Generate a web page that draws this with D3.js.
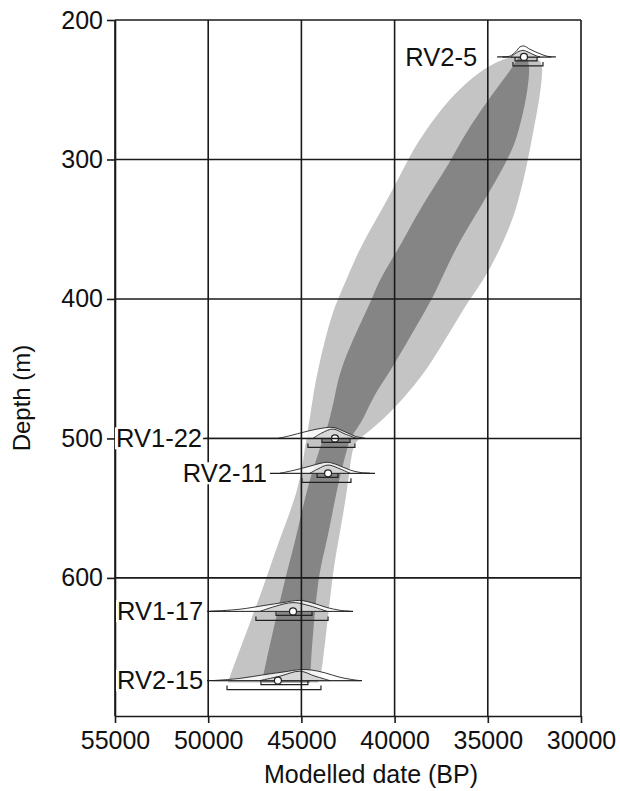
<!DOCTYPE html>
<html>
<head>
<meta charset="utf-8">
<script src="https://cdn.jsdelivr.net/npm/d3@7"></script>
<style>
  body { margin: 0; background: #fff; }
  svg { display: block; font-family: "Liberation Sans", Arial, sans-serif; }
</style>
</head>
<body>
<div id="chart"></div>
<script>
// age-depth model envelope (depth in m, dates in years BP)
const bandDepth   = [224, 228, 235, 255, 285, 300, 335, 360, 385, 400, 415, 450, 470, 485, 493, 500, 505, 535, 575, 600, 670, 675];
const band95Old   = [33050, 34200, 35260, 37030, 38640, 39280, 40620, 41750, 42550, 43040, 43470, 44110, 44380, 44540, 44650, 44700, 44810, 45080, 46260, 46850, 48830, 48940];
const band95Young = [33000, 32150, 32040, 32200, 32630, 32840, 33430, 34180, 35150, 35960, 36650, 38210, 39440, 40520, 41210, 41860, 42290, 42500, 43040, 43360, 43900, 44110];
const band68Old   = [33100, 33450, 33700, 34880, 36380, 36920, 38640, 39600, 40780, 41210, 41750, 42930, 43200, 43470, 43630, 43840, 43950, 44700, 45340, 45880, 47060, 47110];
const band68Young = [33050, 32850, 32740, 32900, 33430, 33920, 35420, 36600, 37460, 37990, 38640, 40140, 41160, 41640, 42020, 42390, 42500, 43090, 43630, 44160, 44540, 44540];

// dated samples
const sampleNames = ["RV2-5", "RV1-22", "RV2-11", "RV1-17", "RV2-15"];
const sampleDepth = [226.5, 500, 525, 624, 673.6];
const sampleLine  = [[34500, 31350], [50170, 41590], [46690, 41050], [50060, 42230], [50060, 41750]];
const sampleMean  = [33060, 43200, 43570, 45450, 46260];
const range68     = [[33540, 32360], [43900, 42390], [44160, 43040], [46360, 44430], [47170, 44650]];
const range95     = [[33650, 32040], [44650, 42130], [44970, 42340], [47440, 43570], [48990, 43950]];

// unmodelled likelihoods (outline) and posteriors (filled)
const priorDates = [
  [34200, 33810, 33490, 33270, 33060, 32740, 32360, 31930, 31600],
  [46250, 45610, 44810, 44160, 43300, 42660, 42120, 41590],
  [46150, 45340, 44540, 44000, 43570, 43040, 42390, 41860, 41320],
  [49900, 48290, 46950, 45990, 45080, 44270, 43630, 42930, 42390],
  [49740, 48290, 46950, 45880, 45080, 44430, 43730, 42930, 42120, 41860]
];
const priorProb = [
  [0, 0.08, 0.5, 0.92, 1, 0.7, 0.4, 0.12, 0],
  [0, 0.25, 0.6, 0.85, 1, 0.6, 0.2, 0],
  [0, 0.3, 0.65, 0.9, 1, 0.75, 0.3, 0.08, 0],
  [0, 0.2, 0.55, 0.8, 1, 0.7, 0.35, 0.1, 0],
  [0, 0.2, 0.55, 0.8, 1, 0.95, 0.7, 0.3, 0.05, 0]
];
const postDates = [
  [33750, 33400, 33110, 32840, 32470, 32200],
  [44380, 43900, 43300, 42660, 42020],
  [44540, 44110, 43570, 42930, 42390],
  [47220, 46420, 45450, 44540, 43630],
  [47220, 46150, 45080, 44270, 43470]
];
const postProb = [
  [0, 0.45, 0.6, 0.45, 0.15, 0],
  [0, 0.5, 0.85, 0.4, 0],
  [0, 0.4, 0.75, 0.4, 0],
  [0, 0.45, 0.8, 0.5, 0],
  [0, 0.4, 0.85, 0.4, 0]
];

const xTicks = [55000, 50000, 45000, 40000, 35000, 30000];
const yTicks = [200, 300, 400, 500, 600];

// layout
const width = 620, height = 791;
const labelGap = [20, 3, 3, 4, 4];
const peakH = 11;

const x = d3.scaleLinear().domain([55000, 30000]).range([115, 581]);
const y = d3.scaleLinear().domain([200, 699]).range([20, 716]);

const svg = d3.select("#chart").append("svg")
  .attr("width", width)
  .attr("height", height);

// envelope
const band = (oldV, youngV) => d3.area()
  .curve(d3.curveBasis)
  .y((d, i) => y(bandDepth[i]))
  .x0((d, i) => x(oldV[i]))
  .x1((d, i) => x(youngV[i]));

svg.append("path")
  .attr("d", band(band95Old, band95Young)(bandDepth))
  .attr("fill", "#c4c4c4");

svg.append("path")
  .attr("d", band(band68Old, band68Young)(bandDepth))
  .attr("fill", "#858585");

// sample distributions
const dist = svg.append("g");
sampleNames.forEach((name, s) => {
  const y0 = y(sampleDepth[s]);
  const curve = (dates, probs) => d3.area()
    .curve(d3.curveCatmullRom.alpha(0.5))
    .x((d, i) => x(dates[i]))
    .y0(y0)
    .y1((d, i) => y0 - probs[i] * peakH)(dates);

  const g = dist.append("g");

  g.append("line")
    .attr("x1", x(sampleLine[s][0])).attr("x2", x(sampleLine[s][1]))
    .attr("y1", y0).attr("y2", y0)
    .attr("stroke", "#222").attr("stroke-width", 1.2);

  g.append("path")
    .attr("d", curve(priorDates[s], priorProb[s]))
    .attr("fill", "#fff").attr("fill-opacity", 0.85)
    .attr("stroke", "#222").attr("stroke-width", 0.9);

  g.append("path")
    .attr("d", curve(postDates[s], postProb[s]))
    .attr("fill", "#d6d6d6")
    .attr("stroke", "#222").attr("stroke-width", 0.9);

  [[range68[s], 4], [range95[s], 9]].forEach(([r, off]) => {
    const a = x(r[0]), b = x(r[1]), yy = y0 + off;
    g.append("path")
      .attr("d", `M${a},${yy - 4}V${yy}H${b}V${yy - 4}`)
      .attr("fill", "none")
      .attr("stroke", "#222").attr("stroke-width", 1.2);
  });

  g.append("circle")
    .attr("cx", x(sampleMean[s])).attr("cy", y0)
    .attr("r", 3.5)
    .attr("fill", "#fff").attr("stroke", "#222").attr("stroke-width", 1.2);
});

// grid
const grid = svg.append("g")
  .attr("stroke", "#1a1a1a")
  .attr("stroke-width", 1.6);

grid.selectAll(".vg")
  .data(xTicks)
  .join("line")
  .attr("x1", d => x(d)).attr("x2", d => x(d))
  .attr("y1", y(200)).attr("y2", y(699));

grid.selectAll(".hg")
  .data(yTicks)
  .join("line")
  .attr("class", "hg")
  .attr("x1", x(55000)).attr("x2", x(30000))
  .attr("y1", d => y(d)).attr("y2", d => y(d));

// axes
const yAxis = g => g
  .attr("transform", `translate(${x(55000)},0)`)
  .call(d3.axisLeft(y).tickValues(yTicks).tickSize(8).tickSizeOuter(0).tickPadding(4))
  .call(g => g.selectAll("path, line").attr("stroke", "#1a1a1a").attr("stroke-width", 1.6))
  .call(g => g.selectAll("text").attr("font-size", 25).attr("fill", "#111"));

const xAxis = g => g
  .attr("transform", `translate(0,${y(699)})`)
  .call(d3.axisBottom(x).tickValues(xTicks).tickFormat(d3.format("d")).tickSize(7).tickSizeOuter(0).tickPadding(8))
  .call(g => g.selectAll("path, line").attr("stroke", "#1a1a1a").attr("stroke-width", 1.6))
  .call(g => g.selectAll("text").attr("font-size", 25).attr("fill", "#111"));

svg.append("g").call(yAxis);
svg.append("g").call(xAxis);

svg.append("text")
  .attr("x", 371)
  .attr("y", 783)
  .attr("text-anchor", "middle")
  .attr("font-size", 25)
  .attr("fill", "#111")
  .text("Modelled date (BP)");

svg.append("text")
  .attr("transform", `translate(30,398) rotate(-90)`)
  .attr("text-anchor", "middle")
  .attr("font-size", 24)
  .attr("fill", "#111")
  .text("Depth (m)");

// sample labels on white boxes
const labels = svg.append("g");
sampleNames.forEach((name, s) => {
  const lg = labels.append("g");
  const t = lg.append("text")
    .attr("x", x(sampleLine[s][0]) - labelGap[s])
    .attr("y", y(sampleDepth[s]))
    .attr("dy", "0.35em")
    .attr("text-anchor", "end")
    .attr("font-size", 25.5)
    .attr("fill", "#111")
    .text(name);
  const bb = t.node().getBBox();
  lg.insert("rect", "text")
    .attr("x", bb.x - 1).attr("y", bb.y + 3)
    .attr("width", bb.width + 2).attr("height", bb.height - 6)
    .attr("fill", "#fff");
});
</script>
</body>
</html>
